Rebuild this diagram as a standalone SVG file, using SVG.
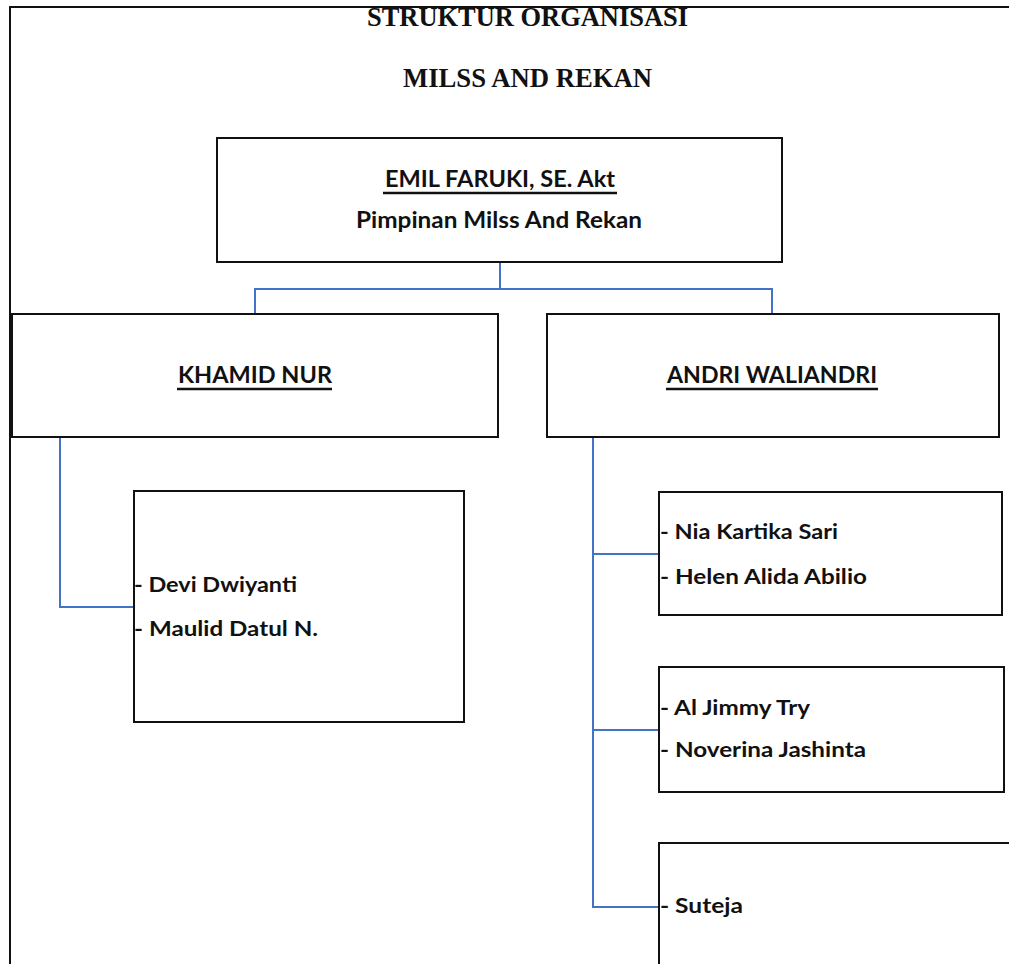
<svg xmlns="http://www.w3.org/2000/svg" width="1009" height="964" viewBox="0 0 1009 964">
<style>
.box{fill:#fff;stroke:#111;stroke-width:2}
.con{fill:none;stroke:#4472C4;stroke-width:2}
.title{font-family:"Liberation Serif","Times New Roman",serif;font-weight:bold;font-size:27px;fill:#111;text-anchor:middle}
.hd{font-family:Lato,"Noto Sans",sans-serif;font-weight:bold;font-size:22px;fill:#111}
.ul{stroke:#111;stroke-width:2.5}
.it{font-family:Lato,"Noto Sans",sans-serif;font-weight:bold;font-size:21.5px;fill:#111}
</style>
<rect width="1009" height="964" fill="#fff"/>
<path d="M10,964 V7 H1009" fill="none" stroke="#111" stroke-width="2"/>
<text class="title" x="527.5" y="26" textLength="321" lengthAdjust="spacingAndGlyphs">STRUKTUR ORGANISASI</text>
<text class="title" x="527.5" y="87" textLength="249" lengthAdjust="spacingAndGlyphs">MILSS AND REKAN</text>
<g id="connectors">
<path class="con" d="M500,262 V289 M255,315 V289 H772 V315"/>
<path class="con" d="M60,438 V607 H134"/>
<path class="con" d="M593,438 V907 H659 M593,554 H659 M593,730 H659"/>
</g>
<g id="emil">
<rect class="box" x="217" y="138" width="565" height="124"/>
<text class="hd" x="385" y="187" textLength="230" lengthAdjust="spacingAndGlyphs">EMIL FARUKI, SE. Akt</text>
<line class="ul" x1="383" y1="193" x2="617" y2="193"/>
<text class="hd" x="356" y="228" textLength="286" lengthAdjust="spacingAndGlyphs">Pimpinan Milss And Rekan</text>
</g>
<g id="khamid">
<rect class="box" x="12" y="314" width="486" height="123"/>
<text class="hd" x="178" y="383" textLength="154" lengthAdjust="spacingAndGlyphs">KHAMID NUR</text>
<line class="ul" x1="177" y1="389" x2="332" y2="389"/>
</g>
<g id="andri">
<rect class="box" x="547" y="314" width="452" height="123"/>
<text class="hd" x="667" y="383" textLength="210" lengthAdjust="spacingAndGlyphs">ANDRI WALIANDRI</text>
<line class="ul" x1="666" y1="389" x2="878" y2="389"/>
</g>
<g id="team-khamid">
<rect class="box" x="134" y="491" width="330" height="231"/>
<text class="it" x="134" y="592" textLength="163" lengthAdjust="spacingAndGlyphs">- Devi Dwiyanti</text>
<text class="it" x="134" y="636" textLength="184" lengthAdjust="spacingAndGlyphs">- Maulid Datul N.</text>
</g>
<g id="team-andri-1">
<rect class="box" x="659" y="492" width="343" height="123"/>
<text class="it" x="660" y="539" textLength="178" lengthAdjust="spacingAndGlyphs">- Nia Kartika Sari</text>
<text class="it" x="660" y="584" textLength="207" lengthAdjust="spacingAndGlyphs">- Helen Alida Abilio</text>
</g>
<g id="team-andri-2">
<rect class="box" x="659" y="667" width="345" height="125"/>
<text class="it" x="660" y="715" textLength="150" lengthAdjust="spacingAndGlyphs">- Al Jimmy Try</text>
<text class="it" x="660" y="757" textLength="206" lengthAdjust="spacingAndGlyphs">- Noverina Jashinta</text>
</g>
<g id="team-andri-3">
<rect class="box" x="659" y="843" width="360" height="140"/>
<text class="it" x="660" y="913" textLength="83" lengthAdjust="spacingAndGlyphs">- Suteja</text>
</g>
</svg>
